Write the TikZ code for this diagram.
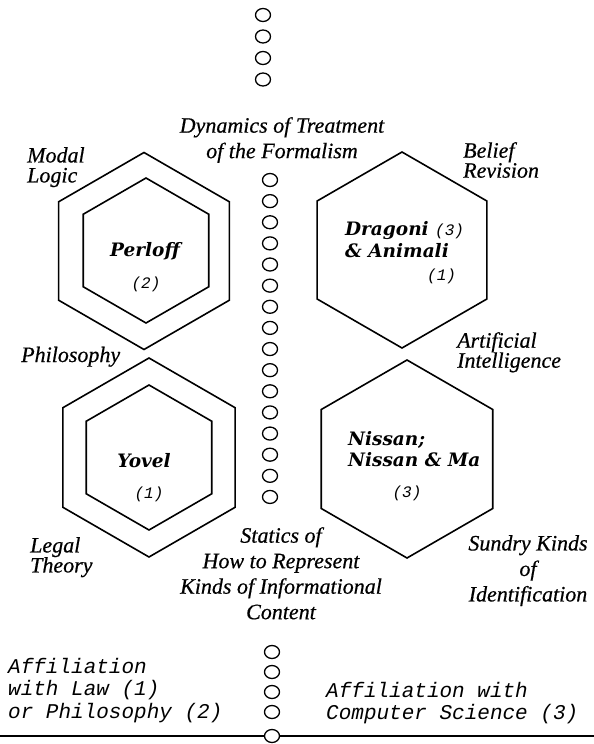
\documentclass[tikz,border=0pt]{standalone}
\usepackage{fontspec}
\setmainfont{Liberation Serif}[ItalicFeatures={FakeBold=0.5}]
\setmonofont{Liberation Mono}
\newfontfamily\namefont{DejaVu Serif}
\usetikzlibrary{shapes.geometric}

\newcommand\cnt{\ttfamily\mdseries\itshape\fontsize{16}{18}\selectfont}

\tikzset{
  hexa/.style={draw, regular polygon, regular polygon sides=6, shape border rotate=30,
    inner sep=0pt, line width=1.6pt, minimum size=#1},
  bead/.style={draw, ellipse, inner sep=0pt, minimum width=15pt, minimum height=13pt,
    line width=1.3pt, fill=white},
  topic/.style={font=\fontsize{22}{20}\selectfont\itshape, inner sep=0pt},
  theme/.style={font=\fontsize{22}{25.5}\selectfont\itshape, inner sep=0pt, align=center},
  author/.style={font=\namefont\fontsize{18.5}{22}\selectfont\bfseries\itshape, inner sep=0pt},
  count/.style={font=\cnt, inner sep=0pt},
  affil/.style={font=\ttfamily\itshape\fontsize{21}{22.5}\selectfont, inner sep=0pt, align=left},
}

\begin{document}
\begin{tikzpicture}[x=1pt,y=-1pt]
	\useasboundingbox (0,0) rectangle (594,744);
	% hexagons
	\node[hexa=197pt] (logicout) at (144,251) {};
	\node[hexa=145pt] (logicin) at (146,250.5) {};
	\node[hexa=196pt] (belief) at (402,250) {};
	\node[hexa=199pt] (legalout) at (149,457.5) {};
	\node[hexa=145pt] (legalin) at (149,457.5) {};
	\node[hexa=198pt] (ident) at (407,459) {};
	% columns of beads
	\foreach \i in {1,...,4}
		\node[bead] (top\i) at (263,{15+21.5*(\i-1)}) {};
	\foreach \i in {1,...,16}
		\node[bead] (mid\i) at (270,{180+21.13*(\i-1)}) {};
	\foreach \i in {1,...,4}
		\node[bead] (low\i) at (272,{652+20*(\i-1)}) {};
	\node[bead] (low5) at (272,736) {};
	\coordinate (baseW) at (0,736);
	\coordinate (baseE) at (594,736);
	\draw[line width=1.3pt] (baseW) -- (low5);
	\draw[line width=1.3pt] (low5) -- (baseE);
	% labels round the hexagons
	\node[theme, anchor=north] (dynamics) at (282,117) {Dynamics of Treatment\\of the Formalism};
	\node[topic, align=left, anchor=north west] (modal) at (27,147) {Modal\\Logic};
	\node[topic, align=left, anchor=north west] (revision) at (463,142) {Belief\\Revision};
	\node[topic, anchor=base west] (philo) at (21,362) {Philosophy};
	\node[topic, align=left, anchor=north west] (ai) at (457,332) {Artificial\\Intelligence};
	\node[topic, align=left, anchor=north west] (legal) at (30,537) {Legal\\Theory};
	\node[theme, anchor=north] (statics) at (281,527) {Statics of\\How to Represent\\Kinds of Informational\\Content};
	\node[theme, anchor=north] (sundry) at (528,535) {Sundry Kinds\\of\\Identification};
	% authors
	\node[author, anchor=base] (perloff) at (145,256) {Perloff};
	\node[count, anchor=base] (perloffn) at (146,288) {(2)};
	\node[author, anchor=base west] (dragoni) at (345,235) {Dragoni {\cnt(3)}};
	\node[author, anchor=base west] (animali) at (345,257) {\& Animali};
	\node[count, anchor=base west] (animalin) at (427,280) {(1)};
	\node[author, anchor=base west] (nissan) at (348,445) {Nissan;};
	\node[author, anchor=base west] (nissanma) at (348,466) {Nissan \& Ma};
	\node[count, anchor=base] (nissann) at (407,497) {(3)};
	\node[author, anchor=base] (yovel) at (144,467) {Yovel};
	\node[count, anchor=base] (yoveln) at (149,498) {(1)};
	% affiliations
	\node[affil, anchor=north west] (lawphil) at (8,658) {Affiliation\\with Law (1)\\or Philosophy (2)};
	\node[affil, anchor=north west] (compsci) at (326,682) {Affiliation with\\Computer Science (3)};
\end{tikzpicture}
\end{document}
